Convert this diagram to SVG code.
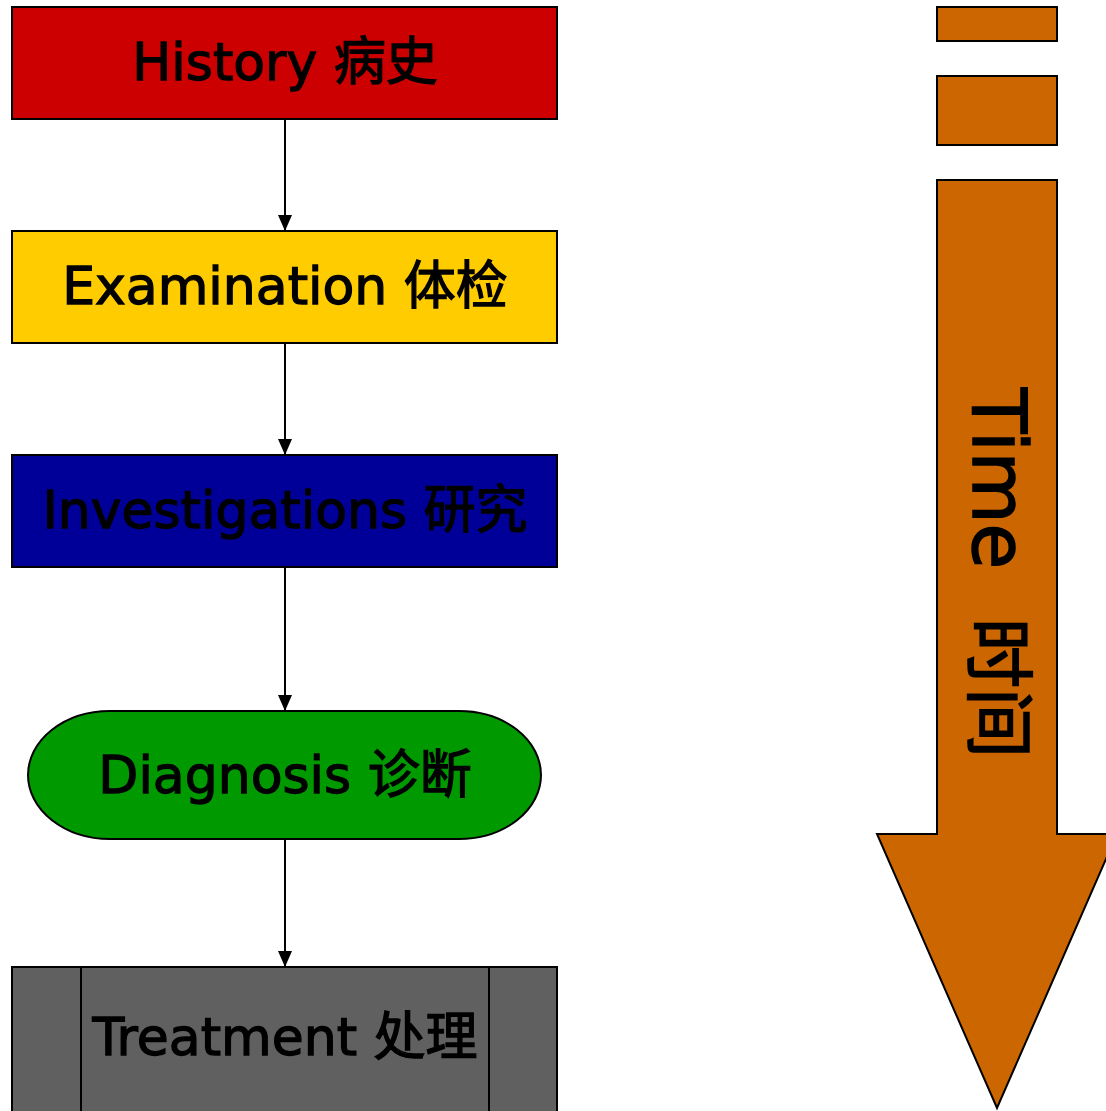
<svg xmlns="http://www.w3.org/2000/svg" width="1106" height="1111" viewBox="0 0 1106 1111">
<style>
.box{stroke:#000;stroke-width:2}
.lbl{font-family:"DejaVu Sans","Noto Sans CJK SC",sans-serif;font-size:52px;fill:#000;stroke:#000;stroke-width:1.3;text-anchor:middle}
.tlbl{font-family:"DejaVu Sans","Noto Sans CJK SC",sans-serif;font-size:74px;fill:#000;stroke:#000;stroke-width:1.6}
.conn{stroke:#000;stroke-width:2;fill:none}
</style>
<defs>
<marker id="ah2" markerWidth="16" markerHeight="14" refX="16" refY="7" orient="auto" markerUnits="userSpaceOnUse">
<path d="M0,0 L16,7 L0,14 Z" fill="#000"/>
</marker>
</defs>
<rect width="1106" height="1111" fill="#fff"/>
<g id="connectors">
<line class="conn" x1="285" y1="119" x2="285" y2="231" marker-end="url(#ah2)"/>
<line class="conn" x1="285" y1="343" x2="285" y2="455" marker-end="url(#ah2)"/>
<line class="conn" x1="285" y1="567" x2="285" y2="711" marker-end="url(#ah2)"/>
<line class="conn" x1="285" y1="839" x2="285" y2="967" marker-end="url(#ah2)"/>
</g>
<g id="history">
<rect class="box" x="12" y="7" width="545" height="112" fill="#CC0000"/>
<text class="lbl" x="285" y="80">History 病史</text>
</g>
<g id="examination">
<rect class="box" x="12" y="231" width="545" height="112" fill="#FFCC00"/>
<text class="lbl" x="285" y="304">Examination 体检</text>
</g>
<g id="investigations">
<rect class="box" x="12" y="455" width="545" height="112" fill="#000099"/>
<text class="lbl" x="285" y="528">Investigations 研究</text>
</g>
<g id="diagnosis">
<rect class="box" x="28" y="711" width="513" height="128" rx="82" ry="64" fill="#009900"/>
<text class="lbl" x="285" y="793">Diagnosis 诊断</text>
</g>
<g id="treatment">
<rect class="box" x="12" y="967" width="545" height="150" fill="#606060"/>
<line class="conn" x1="81" y1="967" x2="81" y2="1111"/>
<line class="conn" x1="489" y1="967" x2="489" y2="1111"/>
<text class="lbl" x="285" y="1055">Treatment 处理</text>
</g>
<g id="time">
<rect class="box" x="937" y="7" width="120" height="34" fill="#CC6600"/>
<rect class="box" x="937" y="76" width="120" height="69" fill="#CC6600"/>
<path class="box" d="M937,180 L1057,180 L1057,834 L1117,834 L997,1108 L877,834 L937,834 Z" fill="#CC6600"/>
<text class="tlbl" transform="translate(973,388) rotate(90)"><tspan x="0" y="0">Time</tspan><tspan x="230" y="0" style="font-size:70px">时间</tspan></text>
</g>
</svg>
